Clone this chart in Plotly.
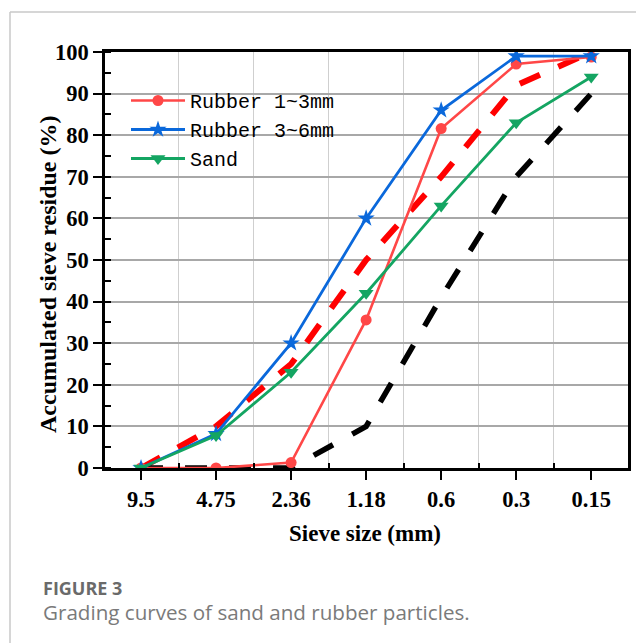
import plotly.graph_objects as go

SIEVE = ["9.5", "4.75", "2.36", "1.18", "0.6", "0.3", "0.15"]
RUBBER_1_3 = [0, 0, 1.3, 35.6, 81.6, 97.1, 98.8]
RUBBER_3_6 = [0, 8.2, 30.0, 60.0, 86.0, 99.0, 99.0]
SAND = [0, 7.8, 23.0, 42.0, 63.0, 83.0, 94.0]
UPPER_LIMIT = [0, 10, 25, 50, 70, 92, 100]
LOWER_LIMIT = [0, 0, 0, 10, 41, 70, 90]

xs = list(range(len(SIEVE)))

# page has an 8px body margin; all page coordinates below are compensated
OFF = 8
W, H = 644 - OFF, 643 - OFF
L, T = 105 - OFF, 52 - OFF
R = W - (628 - OFF)
B = H - (468 - OFF)
PW, PH = W - L - R, H - T - B


def px_x(x):
    return (x - OFF - L) / PW


def px_y(y):
    return 1 - (y - OFF - T) / PH


fig = go.Figure()

fig.add_trace(go.Scatter(x=xs, y=UPPER_LIMIT, mode="lines", showlegend=False,
                         line=dict(color="#ff0000", width=6, dash="22px,20px"),
                         hoverinfo="skip"))
fig.add_trace(go.Scatter(x=xs, y=LOWER_LIMIT, mode="lines", showlegend=False,
                         line=dict(color="#000000", width=5.5, dash="22px,22px"),
                         hoverinfo="skip"))

fig.add_trace(go.Scatter(x=xs, y=RUBBER_1_3, mode="lines+markers", name="Rubber 1~3mm",
                         line=dict(color="#ff4747", width=2.6),
                         marker=dict(symbol="circle", size=11, color="#ff4747")))
fig.add_trace(go.Scatter(x=xs, y=RUBBER_3_6, mode="lines+markers", name="Rubber 3~6mm",
                         line=dict(color="#0a68db", width=2.8),
                         marker=dict(symbol="star", size=13, color="#0a68db")))
fig.add_trace(go.Scatter(x=xs, y=SAND, mode="lines+markers", name="Sand",
                         line=dict(color="#14a562", width=2.8),
                         marker=dict(symbol="triangle-down", size=13, color="#14a562")))

tick_font = dict(family="Liberation Serif", size=22.5, color="#000", weight="bold")

fig.update_xaxes(
    range=[-0.48, 6.49],
    tickvals=xs, ticktext=SIEVE,
    ticks="outside", ticklen=9, tickwidth=2, tickcolor="#000",
    tickfont=tick_font,
    showgrid=False, zeroline=False,
    showline=True, linecolor="#000", linewidth=2.5, mirror=True,
    minor=dict(tickvals=[i + 0.5 for i in xs[:-1]], ticks="inside", ticklen=5,
               tickwidth=1.5, tickcolor="#000", showgrid=True,
               gridcolor="#cfcfcf", gridwidth=1.2),
)
fig.update_yaxes(
    range=[0, 100], dtick=10,
    ticks="outside", ticklen=9, tickwidth=2, tickcolor="#000",
    tickfont=tick_font,
    showgrid=True, gridcolor="#a8a8a8", gridwidth=1.5,
    zeroline=False,
    showline=True, linecolor="#000", linewidth=2.5, mirror=True,
    minor=dict(dtick=5, ticks="inside", ticklen=6, tickwidth=2, tickcolor="#000",
               showgrid=False),
)

shapes = [
    # white legend background (between grid and traces)
    dict(type="rect", xref="paper", yref="paper", layer="between",
         x0=px_x(128), x1=px_x(353), y0=px_y(200), y1=px_y(60),
         fillcolor="white", line=dict(width=0)),
    # figure frame
    dict(type="line", xref="paper", yref="paper",
         x0=px_x(10), x1=px_x(650), y0=px_y(12), y1=px_y(12),
         line=dict(color="#c8c8c8", width=1.5)),
    dict(type="line", xref="paper", yref="paper",
         x0=px_x(10), x1=px_x(10), y0=px_y(12), y1=px_y(650),
         line=dict(color="#c8c8c8", width=1.5)),
]

annotations = [
    dict(text="<b>Sieve size (mm)</b>", xref="paper", yref="paper",
         x=px_x(365), y=px_y(533), xanchor="center", yanchor="middle",
         showarrow=False, font=dict(family="Liberation Serif", size=23, color="#000")),
    dict(text="<b>Accumulated sieve residue (%)</b>", xref="paper", yref="paper",
         x=px_x(48), y=px_y(274), xanchor="center", yanchor="middle", textangle=-90,
         showarrow=False, font=dict(family="Liberation Serif", size=24, color="#000")),
    dict(text="<b>FIGURE 3</b>", xref="paper", yref="paper",
         x=px_x(41), y=px_y(588), xanchor="left", yanchor="middle",
         showarrow=False, font=dict(family="Open Sans", size=18, color="#6a6a6a")),
    dict(text="Grading curves of sand and rubber particles.", xref="paper", yref="paper",
         x=px_x(41), y=px_y(612), xanchor="left", yanchor="middle",
         showarrow=False, font=dict(family="Open Sans", size=20.6, color="#7a7a7a")),
]

fig.update_layout(
    width=W, height=H,
    margin=dict(l=L, r=R, t=T, b=B),
    paper_bgcolor="white", plot_bgcolor="white",
    showlegend=True,
    legend=dict(x=px_x(126), y=px_y(81), xanchor="left", yanchor="top",
                bgcolor="rgba(0,0,0,0)", borderwidth=0,
                font=dict(family="Liberation Mono", size=20, color="#000"),
                itemwidth=54, traceorder="normal"),
    shapes=shapes,
    annotations=annotations,
)

fig.write_html("out.html")
